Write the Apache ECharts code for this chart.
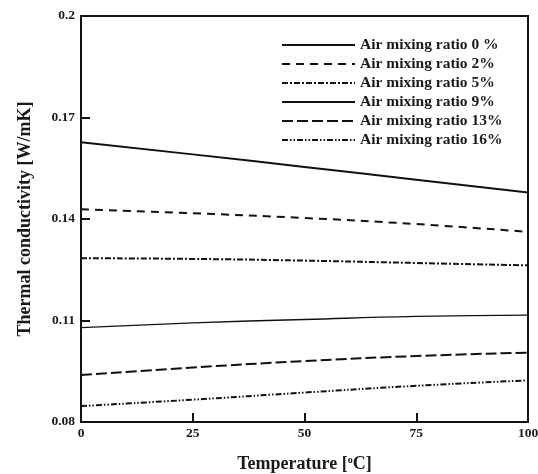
<!DOCTYPE html>
<html>
<head>
<meta charset="utf-8">
<script src="https://cdn.jsdelivr.net/npm/echarts@6/dist/echarts.min.js"></script>
<style>
html, body { margin: 0; padding: 0; background: #fff; }
#main { width: 538px; height: 474px; }
</style>
</head>
<body>
<div id="main"></div>
<script>
// 数据
var temps = [0, 25, 50, 75, 100];
var names = ['Air mixing ratio 0 %', 'Air mixing ratio 2%', 'Air mixing ratio 5%',
	'Air mixing ratio 9%', 'Air mixing ratio 13%', 'Air mixing ratio 16%'];
var ratio0 = [0.1627, 0.1591, 0.1554, 0.1516, 0.1478];
var ratio2 = [0.1429, 0.1417, 0.1403, 0.1385, 0.1362];
var ratio5 = [0.1284, 0.1282, 0.1277, 0.1270, 0.1263];
var ratio9 = [0.1079, 0.1093, 0.1103, 0.1112, 0.1116];
var ratio13 = [0.0939, 0.0961, 0.0980, 0.0995, 0.1005];
var ratio16 = [0.0847, 0.0866, 0.0887, 0.0907, 0.0923];
var yTicks = [0.08, 0.11, 0.14, 0.17, 0.2];

var allValues = [ratio0, ratio2, ratio5, ratio9, ratio13, ratio16];
// 线型
var lineTypes = [
	{ type: 'solid', width: 2 },
	{ type: [8, 6], width: 2 },
	{ type: [6, 2, 2, 2], width: 2 },
	{ type: 'solid', width: 1.3 },
	{ type: [11, 4], width: 2 },
	{ type: [6, 2, 1.5, 2, 1.5, 2], width: 2 }
];

var font = 'Liberation Serif';

var series = allValues.map(function(vals, i) {
	return {
		name: names[i],
		type: 'line',
		smooth: true,
		symbol: 'none',
		data: vals.map(function(v, j) { return [temps[j], v]; }),
		lineStyle: {
			color: '#111',
			width: lineTypes[i].width,
			type: lineTypes[i].type
		},
		itemStyle: { color: '#111' }
	};
});

var chart = echarts.init(document.getElementById('main'));
var option = {
	backgroundColor: '#fff',
	animation: false,
	grid: {
		left: 81,
		right: 10,
		top: 16,
		bottom: 52,
		outerBoundsMode: 'none',
		show: true,
		borderColor: '#111',
		borderWidth: 2
	},
	legend: {
		orient: 'vertical',
		left: 276,
		top: 32,
		itemWidth: 73,
		itemHeight: 10,
		itemGap: 3,
		data: names,
		itemStyle: { opacity: 0 },
		textStyle: {
			fontFamily: font,
			fontWeight: 'bold',
			fontSize: 15.5,
			color: '#1a1a1a'
		}
	},
	xAxis: {
		type: 'value',
		min: 0,
		max: 100,
		interval: 25,
		name: 'Temperature [{sup|o}C]',
		nameLocation: 'middle',
		nameGap: 33,
		nameTextStyle: {
			fontFamily: font,
			fontWeight: 'bold',
			fontSize: 18,
			color: '#1a1a1a',
			rich: {
				sup: { fontFamily: font, fontSize: 10, fontWeight: 'bold', color: '#1a1a1a', verticalAlign: 'top', padding: [0, 0, 9, 0] }
			}
		},
		axisLine: { lineStyle: { color: '#111', width: 2 } },
		axisTick: { inside: true, length: 9, lineStyle: { color: '#111', width: 2 } },
		axisLabel: { fontFamily: font, fontWeight: 'bold', fontSize: 13.5, color: '#1a1a1a', margin: 5 },
		splitLine: { show: false }
	},
	yAxis: {
		type: 'value',
		min: 0.08,
		max: 0.2,
		name: 'Thermal conductivity [W/mK]',
		nameLocation: 'middle',
		nameGap: 47,
		nameTextStyle: {
			fontFamily: font,
			fontWeight: 'bold',
			fontSize: 18,
			color: '#1a1a1a'
		},
		axisLine: { lineStyle: { color: '#111', width: 2 } },
		axisTick: { inside: true, length: 9, customValues: yTicks, lineStyle: { color: '#111', width: 2 } },
		axisLabel: { fontFamily: font, fontWeight: 'bold', fontSize: 13.5, color: '#1a1a1a', margin: 6, customValues: yTicks },
		splitLine: { show: false }
	},
	series: series
};
chart.setOption(option);
</script>
</body>
</html>
